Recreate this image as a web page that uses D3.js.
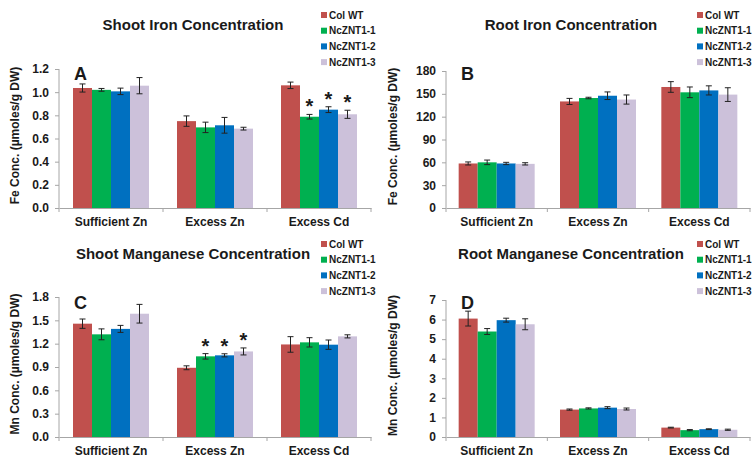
<!DOCTYPE html>
<html>
<head>
<meta charset="UTF-8" />
<script src="https://cdn.jsdelivr.net/npm/d3@7"></script>
<style>
  body { margin: 0; background: #fff; }
  text { font-family: "Liberation Sans", Arial, sans-serif; font-weight: bold; fill: #1a1a1a; }
</style>
</head>
<body>
<svg width="756" height="458"></svg>
<script>
// categories and series
var categories = ["Sufficient Zn", "Excess Zn", "Excess Cd"];
var series = ["Col WT", "NcZNT1-1", "NcZNT1-2", "NcZNT1-3"];
var colors = ["#c0504d", "#00b050", "#0070c0", "#ccc1da"];

// A: shoot iron (rows = categories, cols = series)
var shootFe = [[1.036, 1.02, 1.007, 1.056], [0.75, 0.696, 0.714, 0.685], [1.059, 0.788, 0.849, 0.809]];
var shootFeErr = [[0.035, 0.012, 0.028, 0.07], [0.045, 0.045, 0.068, 0.012], [0.028, 0.02, 0.025, 0.035]];
var shootFeSig = [[0, 0, 0, 0], [0, 0, 0, 0], [0, 1, 1, 1]];
var shootFeTicks = [0, 0.2, 0.4, 0.6, 0.8, 1.0, 1.2];

// B: root iron
var rootFe = [[58.5, 60, 58.5, 58], [140, 144.5, 147.5, 142.5], [159, 152, 154.5, 149]];
var rootFeErr = [[2, 3, 1.5, 1.5], [4, 1, 5, 6], [7, 7, 6, 9]];
var rootFeTicks = [0, 30, 60, 90, 120, 150, 180];

// C: shoot manganese
var shootMn = [[1.457, 1.32, 1.39, 1.585], [0.89, 1.037, 1.05, 1.10], [1.19, 1.217, 1.187, 1.294]];
var shootMnErr = [[0.06, 0.07, 0.045, 0.12], [0.025, 0.035, 0.02, 0.045], [0.1, 0.06, 0.06, 0.02]];
var shootMnSig = [[0, 0, 0, 0], [0, 1, 1, 1], [0, 0, 0, 0]];
var shootMnTicks = [0, 0.3, 0.6, 0.9, 1.2, 1.5, 1.8];

// D: root manganese
var rootMn = [[6.05, 5.39, 5.97, 5.76], [1.4, 1.46, 1.5, 1.43], [0.48, 0.35, 0.4, 0.37]];
var rootMnErr = [[0.38, 0.15, 0.1, 0.28], [0.03, 0.03, 0.05, 0.05], [0.02, 0.03, 0.02, 0.03]];
var rootMnTicks = [0, 1, 2, 3, 4, 5, 6, 7];

var panels = [
  { ox: 0, oy: 0, left: 59, right: 371, top: 69, bottom: 208, title: "Shoot Iron Concentration", letter: "A",
    ylab: "Fe Conc. (\u00b5moles/g DW)", vals: shootFe, errs: shootFeErr, sig: shootFeSig, ticks: shootFeTicks, fmt: d3.format(".1f") },
  { ox: 378, oy: 0, left: 68, right: 372, top: 71, bottom: 208, title: "Root Iron Concentration", letter: "B",
    ylab: "Fe Conc. (\u00b5moles/g DW)", vals: rootFe, errs: rootFeErr, sig: null, ticks: rootFeTicks, fmt: d3.format("d") },
  { ox: 0, oy: 229, left: 59, right: 371, top: 68, bottom: 208, title: "Shoot Manganese Concentration", letter: "C",
    ylab: "Mn Conc. (\u00b5moles/g DW)", vals: shootMn, errs: shootMnErr, sig: shootMnSig, ticks: shootMnTicks, fmt: d3.format(".1f") },
  { ox: 378, oy: 229, left: 68, right: 372, top: 71, bottom: 208, title: "Root Manganese Concentration", letter: "D",
    ylab: "Mn Conc. (\u00b5moles/g DW)", vals: rootMn, errs: rootMnErr, sig: null, ticks: rootMnTicks, fmt: d3.format("d") }
];

var svg = d3.select("svg");
var axisColor = "#a6a6a6";

panels.forEach(function (p) {
  var g = svg.append("g").attr("transform", "translate(" + p.ox + "," + p.oy + ")");

  var x0 = d3.scaleBand().domain(categories).range([p.left, p.right]).padding(0);
  var bw = x0.bandwidth();
  var x1 = d3.scaleBand().domain(series).range([(bw - 76) / 2, (bw + 76) / 2]).padding(0);
  var y = d3.scaleLinear().domain([0, d3.max(p.ticks)]).range([p.bottom, p.top]);

  // bars
  var groups = g.selectAll(".grp").data(categories).enter().append("g")
    .attr("transform", function (d) { return "translate(" + x0(d) + ",0)"; });

  groups.each(function (cat, ci) {
    var gg = d3.select(this);
    var rows = series.map(function (s, si) {
      return { s: s, si: si, v: p.vals[ci][si], e: p.errs[ci][si], sig: p.sig ? p.sig[ci][si] : 0 };
    });
    gg.selectAll("rect").data(rows).enter().append("rect")
      .attr("x", function (d) { return x1(d.s); })
      .attr("y", function (d) { return y(d.v); })
      .attr("width", x1.bandwidth())
      .attr("height", function (d) { return y(0) - y(d.v); })
      .attr("fill", function (d) { return colors[d.si]; });

    // error bars
    var eb = gg.selectAll(".eb").data(rows).enter().append("g")
      .attr("transform", function (d) { return "translate(" + (x1(d.s) + x1.bandwidth() / 2) + ",0)"; })
      .attr("stroke", "#222").attr("stroke-width", 1);
    eb.append("line").attr("x1", 0).attr("x2", 0)
      .attr("y1", function (d) { return y(d.v - d.e); })
      .attr("y2", function (d) { return y(d.v + d.e); });
    eb.append("line").attr("x1", -3).attr("x2", 3)
      .attr("y1", function (d) { return y(d.v + d.e); })
      .attr("y2", function (d) { return y(d.v + d.e); });
    eb.append("line").attr("x1", -3).attr("x2", 3)
      .attr("y1", function (d) { return y(d.v - d.e); })
      .attr("y2", function (d) { return y(d.v - d.e); });

    // significance stars
    gg.selectAll(".star").data(rows.filter(function (d) { return d.sig; })).enter().append("text")
      .attr("x", function (d) { return x1(d.s) + x1.bandwidth() / 2; })
      .attr("y", function (d) { return y(d.v + d.e) - 1; })
      .attr("text-anchor", "middle")
      .attr("font-size", 20)
      .text("*");
  });

  // y axis
  var yAxis = g.append("g").attr("transform", "translate(" + p.left + ",0)")
    .call(d3.axisLeft(y).tickValues(p.ticks).tickFormat(p.fmt).tickSize(4).tickPadding(6));
  yAxis.select(".domain").attr("stroke", axisColor).attr("d", "M0," + p.top + "V" + p.bottom);
  yAxis.selectAll(".tick line").attr("stroke", axisColor);
  yAxis.selectAll(".tick text").attr("font-size", 12).attr("font-family", null).attr("fill", "#1a1a1a");

  // x axis
  var xAxis = g.append("g").attr("transform", "translate(0," + p.bottom + ")")
    .call(d3.axisBottom(x0).tickSize(0).tickPadding(9));
  xAxis.select(".domain").attr("stroke", axisColor);
  xAxis.selectAll(".tick text").attr("font-size", 12).attr("font-family", null).attr("fill", "#1a1a1a");
  var bounds = [p.left].concat(categories.map(function (c) { return x0(c) + bw; }));
  xAxis.selectAll(".sep").data(bounds).enter().append("line")
    .attr("x1", function (d) { return d; }).attr("x2", function (d) { return d; })
    .attr("y1", 0).attr("y2", 4).attr("stroke", axisColor);

  // y axis title
  g.append("text")
    .attr("transform", "translate(19," + ((p.top + p.bottom) / 2 - 3) + ") rotate(-90)")
    .attr("text-anchor", "middle").attr("font-size", 12)
    .text(p.ylab);

  // title
  g.append("text").attr("x", 193).attr("y", 30).attr("text-anchor", "middle")
    .attr("font-size", 15).text(p.title);

  // panel letter
  g.append("text").attr("x", p.left + 15).attr("y", 80).attr("font-size", 18).text(p.letter);

  // legend
  var lg = g.append("g").attr("transform", "translate(" + (p.ox ? 319 : 321) + ",0)");
  var items = lg.selectAll("g").data(series).enter().append("g")
    .attr("transform", function (d, i) { return "translate(0," + (15 + i * 15.7) + ")"; });
  items.append("rect").attr("x", 0).attr("y", -3).attr("width", 6).attr("height", 6)
    .attr("fill", function (d, i) { return colors[i]; });
  items.append("text").attr("x", 8).attr("y", 3.5).attr("font-size", 10).text(function (d) { return d; });
});
</script>
</body>
</html>
